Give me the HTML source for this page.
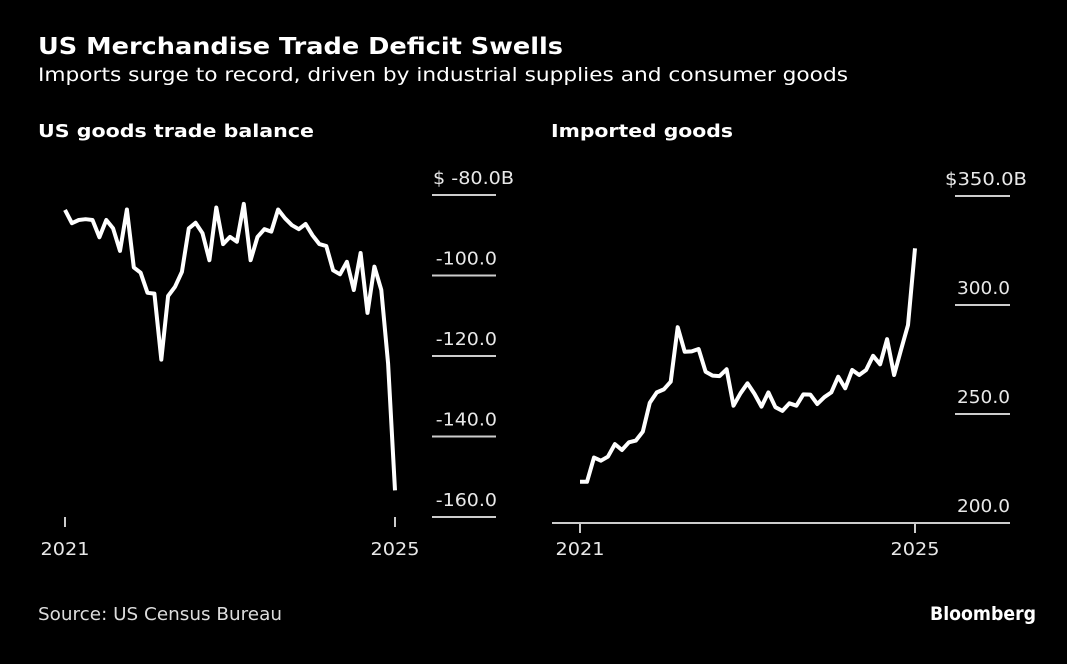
<!DOCTYPE html>
<html><head><meta charset="utf-8"><style>
body{margin:0;background:#000;width:1067px;height:664px;overflow:hidden;font-family:"DejaVu Sans","Liberation Sans",sans-serif;color:#fff}
svg{position:absolute;left:0;top:0}
</style></head><body>
<svg width="1067" height="664">
<text x="38" y="54" font-size="23" font-weight="bold" fill="#fff" textLength="525" lengthAdjust="spacingAndGlyphs">US Merchandise Trade Deficit Swells</text>
<text x="38" y="81" font-size="19" fill="#fff" textLength="810" lengthAdjust="spacingAndGlyphs">Imports surge to record, driven by industrial supplies and consumer goods</text>
<text x="38" y="137" font-size="18" font-weight="bold" fill="#fff" textLength="276" lengthAdjust="spacingAndGlyphs">US goods trade balance</text>
<text x="551" y="137" font-size="18" font-weight="bold" fill="#fff" textLength="182" lengthAdjust="spacingAndGlyphs">Imported goods</text>
<g id="left"></g>
<g id="right"></g>
<text x="38" y="620" font-size="18" fill="#ddd" textLength="244" lengthAdjust="spacingAndGlyphs">Source: US Census Bureau</text>
<text x="930" y="620" font-size="19" font-weight="bold" fill="#fff" textLength="106" lengthAdjust="spacingAndGlyphs">Bloomberg</text>
</svg>
<script>
const balanceValues=[-83.7,-87.0,-86.2,-86.0,-86.2,-90.5,-86.2,-88.3,-93.9,-83.6,-98.0,-99.3,-104.3,-104.5,-120.9,-105.1,-102.8,-99.1,-88.3,-86.9,-89.5,-96.2,-83.1,-92.2,-90.4,-91.6,-82.2,-96.2,-90.4,-88.5,-89.1,-83.6,-85.8,-87.5,-88.5,-87.2,-90.0,-92.2,-92.7,-98.7,-99.7,-96.6,-103.6,-94.4,-109.3,-97.8,-103.6,-121.9,-153.4];
const importValues=[218.9,218.9,230.0,228.6,230.4,236.2,233.5,237.0,237.8,241.9,255.2,259.9,261.3,264.8,289.8,278.6,278.7,279.8,269.4,267.6,267.4,270.5,253.8,259.5,264.1,259.2,253.4,259.9,253.1,251.4,254.9,253.8,259.0,258.9,254.6,257.7,259.9,267.1,261.8,270.2,267.9,270.2,276.7,272.8,284.3,267.9,279.4,290.8,326.0];
const balanceTicks=[-80,-100,-120,-140,-160];
const importTicks=[350,300,250,200];
const yearLabels=["2021","2025"];
const yearIndex=[0,48];
const NS="http://www.w3.org/2000/svg";
function mk(p,t,a,txt){const e=document.createElementNS(NS,t);for(const k in a)e.setAttribute(k,a[k]);if(txt!=null)e.textContent=txt;p.appendChild(e);return e;}
function panel(g,vals,ticks,x0,x1,v0,y0,v1,y1,tl0,tl1,lblX,firstX,first,firstW,labW,baseline,tickTop,tickBot){
 const xs=i=>x0+(x1-x0)*i/(vals.length-1);
 const ys=v=>y0+(v-v0)*(y1-y0)/(v1-v0);
 ticks.forEach((t,i)=>{
  const y=ys(t);
  const l=mk(g,'line',{x1:tl0,x2:tl1,y1:y,y2:y,stroke:'#ccc','stroke-width':2});
  
  
  const s=i===0?first(t):t.toFixed(1);
  const tx=mk(g,'text',{x:i===0?firstX:lblX,y:y-11,'font-size':18,fill:'#e8e8e8','text-anchor':'end',textLength:i===0?firstW:labW(s),lengthAdjust:'spacingAndGlyphs'},s);
  
  
 });
 if(baseline){const b=mk(g,'line',{x1:baseline[0],x2:baseline[1],y1:baseline[2],y2:baseline[2],stroke:'#ccc','stroke-width':2});
  
  }
 yearIndex.forEach((ix,k)=>{
  const x=xs(ix);
  const t=mk(g,'line',{x1:x,x2:x,y1:tickTop,y2:tickBot,stroke:'#ccc','stroke-width':2});
  
  
  const tx=mk(g,'text',{x:x,y:555,'font-size':18,fill:'#e8e8e8','text-anchor':'middle',textLength:49,lengthAdjust:'spacingAndGlyphs'},yearLabels[k]);
  
  
 });
 const p=mk(g,'polyline',{points:vals.map((v,i)=>xs(i).toFixed(1)+','+ys(v).toFixed(1)).join(' '),fill:'none',stroke:'#fff','stroke-width':4,'stroke-linejoin':'round'});
 
 
}
panel(document.getElementById('left'),balanceValues,balanceTicks,65,395,-80,195,-160,517,432,496,497,514,t=>'$ -'+Math.abs(t).toFixed(1)+'B',81,s=>s.length*10.2,null,517,527);
panel(document.getElementById('right'),importValues,importTicks,580,915,350,196,200,523,955,1010,1010,1027,t=>'$'+t.toFixed(1)+'B',82,s=>s.length*10.6,[552,1008,523],523,533);
</script>
</body></html>
